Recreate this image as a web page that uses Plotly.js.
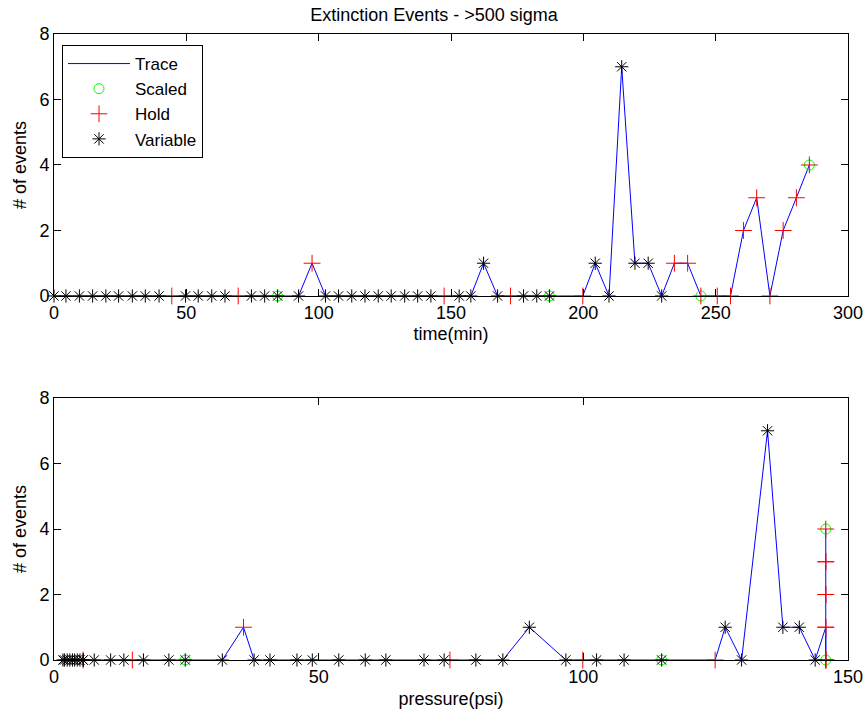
<!DOCTYPE html>
<html>
<head>
<meta charset="utf-8">
<script src="https://cdn.plot.ly/plotly-3.0.1.min.js"></script>
<style>html,body{margin:0;padding:0;background:#fff;}#chart{width:868px;height:715px;}</style>
</head>
<body>
<div id="chart"></div>
<script>
// Event times (min)
var times = [0,4.5,9.6,14.6,19.6,24.4,29.6,34.5,39.7,44.5,49.7,54.5,59.6,64.6,69.6,74.6,79.6,84.5,92.4,97.5,
  102.6,107.5,112.5,117.5,122.5,127.4,132.5,137.4,142.4,147.4,153.1,157.5,162.3,167.6,172.5,177.4,182.4,187.2,199.8,
  204.5,209.7,214.5,219.5,224.5,229.6,234.4,239.4,244.4,250.6,255.6,260.5,265.5,270.5,275.5,280.5,285.4];
// Pressure (psi) at each event
var pressures = [1.7,2.0,2.5,3.0,3.5,3.9,4.4,4.9,5.5,5.5,5.5,7.6,10.7,13.2,14.8,16.9,21.7,24.8,31.8,35.8,
  37.8,40.8,45.9,48.8,53.8,58.8,62.7,69.9,73.7,74.8,79.7,84.8,89.8,96.7,99.9,102.5,107.7,114.8,124.9,
  126.8,129.9,134.8,137.7,140.8,143.8,145.8,145.8,145.8,145.8,145.8,145.8,145.8,145.8,145.8,145.8,145.8];
// Number of events
var counts = [0,0,0,0,0,0,0,0,0,0,0,0,0,0,0,0,0,0,0,1,
  0,0,0,0,0,0,0,0,0,0,0,0,1,0,0,0,0,0,0,
  1,0,7,1,1,0,1,1,0,0,0,2,3,0,2,3,4];
// Mode: V = Variable, H = Hold
var modes = ['V','V','V','V','V','V','V','V','V','H','V','V','V','V','H','V','V','V','V','H',
  'V','V','V','V','V','V','V','V','V','H','V','V','V','V','H','V','V','V','H',
  'V','V','V','V','V','V','H','H','H','H','H','H','H','H','H','H','H'];
// Scaled flag
var scaled = [0,0,0,0,0,0,0,0,0,0,0,0,0,0,0,0,0,1,0,0,
  0,0,0,0,0,0,0,0,0,0,0,0,0,0,0,0,0,1,0,
  0,0,0,0,0,0,0,0,1,0,0,0,0,0,0,0,1];
var seriesNames = ['Trace','Scaled','Hold','Variable'];

function pick(xs, cond){
  var ox=[], oy=[];
  for (var i=0;i<xs.length;i++){ if(cond(i)){ ox.push(xs[i]); oy.push(counts[i]); } }
  return {x:ox,y:oy};
}
function makeTraces(xs, xa, ya, show){
  var s = pick(xs, function(i){return scaled[i]===1;});
  var h = pick(xs, function(i){return modes[i]==='H';});
  var v = pick(xs, function(i){return modes[i]==='V';});
  return [
    {x:xs, y:counts, xaxis:xa, yaxis:ya, type:'scatter', mode:'lines', name:seriesNames[0],
     line:{color:'#0000ff', width:1}, showlegend:show, legendgroup:'a', cliponaxis:false},
    {x:s.x, y:s.y, xaxis:xa, yaxis:ya, type:'scatter', mode:'markers', name:seriesNames[1],
     marker:{symbol:'circle-open', size:10, color:'#00ff00', line:{width:1, color:'#00ff00'}}, showlegend:show, legendgroup:'b', cliponaxis:false},
    {x:h.x, y:h.y, xaxis:xa, yaxis:ya, type:'scatter', mode:'markers', name:seriesNames[2],
     marker:{symbol:'cross-thin-open', size:12, color:'#ff0000', line:{width:1, color:'#ff0000'}}, showlegend:show, legendgroup:'c', cliponaxis:false},
    {x:v.x, y:v.y, xaxis:xa, yaxis:ya, type:'scatter', mode:'markers', name:seriesNames[3],
     marker:{symbol:'asterisk-open', size:11, color:'#000000', line:{width:1, color:'#000000'}}, showlegend:show, legendgroup:'d', cliponaxis:false}
  ];
}
var data = makeTraces(times,'x','y',true).concat(makeTraces(pressures,'x2','y2',false));

var font = {family:'Liberation Sans, Arial, sans-serif', size:18, color:'#000'};
function axisBase(){
  return {showline:true, linecolor:'#000', linewidth:1, mirror:'ticks', ticks:'inside', ticklen:7,
    tickcolor:'#000', tickwidth:1, showgrid:false, zeroline:false, tickfont:font, layer:'above traces'};
}
var xa = Object.assign(axisBase(), {range:[0,300], dtick:50, tick0:0, anchor:'y',
  title:{text:'time(min)', font:font, standoff:5}});
var ya = Object.assign(axisBase(), {range:[0,8], dtick:2, tick0:0, domain:[0.5815,1], anchor:'x',
  title:{text:'# of events', font:font, standoff:8}});
var xa2 = Object.assign(axisBase(), {range:[0,150], dtick:50, tick0:0, anchor:'y2',
  title:{text:'pressure(psi)', font:font, standoff:6}});
var ya2 = Object.assign(axisBase(), {range:[0,8], dtick:2, tick0:0, domain:[0,0.4185], anchor:'x2',
  title:{text:'# of events', font:font, standoff:8}});

var layout = {
  width:868, height:715,
  paper_bgcolor:'#fff', plot_bgcolor:'#fff',
  margin:{l:54, r:20, t:34, b:55},
  title:{text:'Extinction Events - >500 sigma', font:{family:font.family, size:18, color:'#000'},
    x:0.5, xanchor:'center', y:0.979, yanchor:'middle'},
  xaxis:xa, yaxis:ya, xaxis2:xa2, yaxis2:ya2,
  showlegend:true,
  legend:{x:0.0101, y:0.9824, xanchor:'left', yanchor:'top', bgcolor:'#fff',
    bordercolor:'#000', borderwidth:1, font:{family:font.family, size:17, color:'#000'},
    itemwidth:62, tracegroupgap:0, traceorder:'normal'}
};
Plotly.newPlot('chart', data, layout, {displayModeBar:false, staticPlot:true});
</script>
</body>
</html>
